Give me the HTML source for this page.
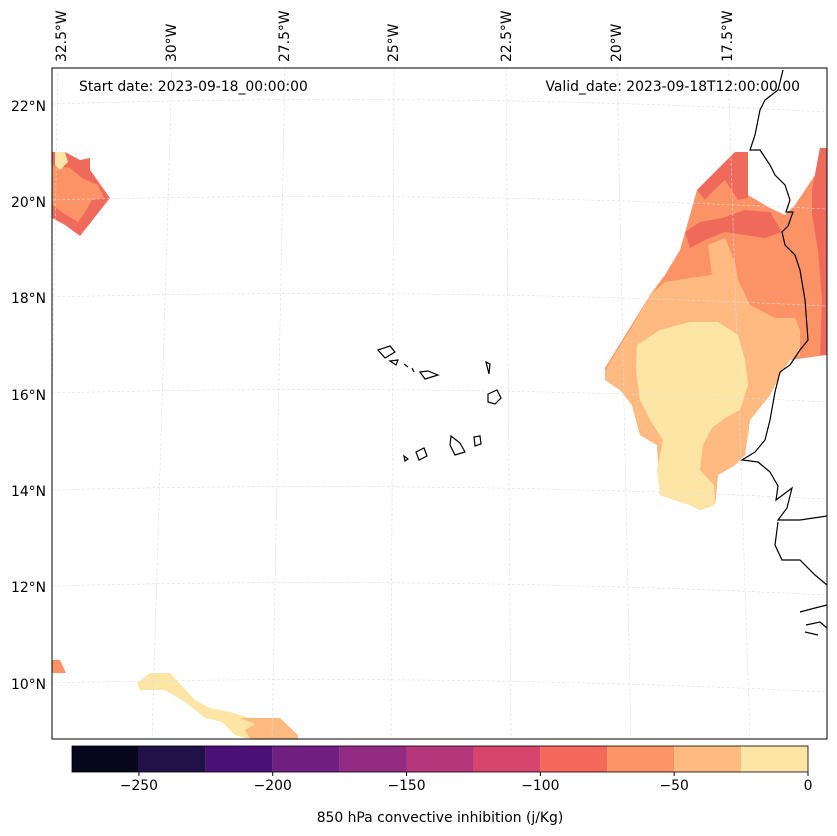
<!DOCTYPE html>
<html><head><meta charset="utf-8"><style>
body{margin:0;background:#fff;}
svg{display:block;font-family:"DejaVu Sans","Liberation Sans",sans-serif;}
</style></head><body>
<svg width="837" height="836" viewBox="0 0 837 836">
<g>
<path fill="#fb9366" d="M605,368 L650,295 L665,275 L680,250 L690,215 L697,190 L735,152 L748,152 L748,195 L770,208 L785,215 L795,205 L815,175 L820,148 L827,148 L827,355 L790,360 L780,375 L770,395 L750,420 L745,455 L735,465 L718,475 L715,505 L700,510 L690,505 L660,495 L657,445 L640,435 L632,405 L620,390 L605,380 Z"/>
<path fill="#f06a5c" d="M697,190 L735,152 L748,152 L748,198 L738,200 L725,180 L712,192 L705,200 Z"/>
<path fill="#f06a5c" d="M685,232 L700,222 L722,218 L745,210 L770,212 L782,232 L765,238 L745,235 L725,232 L705,240 L690,248 Z"/>
<path fill="#f06a5c" d="M812,190 L820,148 L827,148 L827,355 L820,355 L822,300 L818,250 L812,215 Z"/>
<path fill="#feba80" d="M605,370 L630,330 L650,295 L665,282 L690,278 L712,275 L708,245 L725,238 L735,262 L738,280 L750,305 L775,318 L795,318 L800,330 L800,355 L790,360 L780,375 L770,395 L750,420 L745,455 L735,465 L718,475 L715,505 L700,510 L690,505 L660,495 L657,445 L640,435 L632,405 L620,390 L605,380 Z"/>
<path fill="#fde6a5" d="M637,345 L660,330 L690,322 L718,322 L738,335 L745,360 L748,385 L740,410 L725,418 L712,428 L703,445 L700,470 L714,485 L715,505 L700,510 L690,505 L660,495 L657,470 L663,440 L650,420 L640,400 L636,370 Z"/>
<path fill="#f06a5c" d="M52,152 L65,152 L80,160 L90,158 L90,170 L110,198 L80,236 L65,225 L52,218 Z"/>
<path fill="#fb9366" d="M52,165 L70,168 L82,178 L98,185 L104,198 L92,200 L85,212 L78,222 L66,215 L52,205 Z"/>
<path fill="#fde6a5" d="M55,152 L65,152 L68,162 L60,170 L55,165 Z"/>
<path fill="#fb9366" d="M52,660 L60,660 L66,673 L52,673 Z"/>
<path fill="#fde6a5" d="M137,683 L150,673 L170,673 L195,700 L210,708 L230,712 L250,718 L260,722 L248,739 L235,735 L222,722 L205,718 L185,702 L165,690 L140,690 Z"/>
<path fill="#feba80" d="M240,718 L280,718 L298,735 L298,739 L250,739 L245,730 L255,724 Z"/>
</g>
<g stroke="#ddd" stroke-width="0.6" stroke-dasharray="3,2" fill="none">
<path d="M52,104 Q440,92 827,112"/><path d="M52,200 Q440,190 827,209"/><path d="M52,297 Q440,287 827,306"/><path d="M52,393 Q440,383 827,402"/><path d="M52,490 Q440,480 827,499"/><path d="M52,586 Q440,576 827,595"/><path d="M52,683 Q440,673 827,692"/>
<path d="M58,68 L52,400"/><path d="M172,68 L152,739"/><path d="M285,68 L272,739"/><path d="M394,68 L391,739"/><path d="M506,68 L511,739"/><path d="M617,68 L631,739"/><path d="M728,68 L750,739"/>
</g>
<g stroke="#000" stroke-width="1.2" fill="none">
<path d="M783,70 L778,90 L765,100 L760,110 L755,135 L750,150 L760,150 L770,165 L775,175 L785,185 L790,200 L786,212 L793,212 L788,226 L782,232 L785,245 L795,255 L800,270 L805,300 L808,340 L800,350 L790,365 L780,372 L775,392 L770,420 L765,440 L755,452 L742,460 L758,462 L770,472 L778,486 L776,500 L792,488 L787,508 L778,520 L800,520 L827,516"/>
<path d="M778,522 L775,545 L782,560 L800,560 L815,575 L827,585"/>
<path d="M800,612 L815,608 L827,605 M806,625 L820,622 L827,628 M805,632 L818,635"/>
<path d="M378,350 L390,346 L395,352 L385,358 Z M390,361 L398,360 L396,365 Z M404,364 L408,367 M412,368 L414,372 M420,372 L428,371 L438,375 L425,379 Z M486,362 L490,364 L489,374 Z M488,394 L497,390 L501,398 L495,404 L488,402 Z M451,436 L460,443 L465,452 L455,455 L450,445 Z M474,437 L480,436 L481,444 L475,446 Z M416,452 L424,448 L427,456 L419,460 Z M404,456 L408,459 L405,461 Z"/>
</g>
<rect x="52" y="68" width="775" height="671" fill="none" stroke="#000" stroke-width="1"/>
<text x="79" y="91" font-size="13.9">Start date: 2023-09-18_00:00:00</text>
<text x="800" y="91" font-size="13.9" text-anchor="end">Valid_date: 2023-09-18T12:00:00.00</text>
<g font-size="13.9" text-anchor="end">
<text x="46" y="111">22°N</text><text x="46" y="207">20°N</text><text x="46" y="303">18°N</text><text x="46" y="400">16°N</text><text x="46" y="496">14°N</text><text x="46" y="592">12°N</text><text x="46" y="689">10°N</text>
</g>
<g font-size="13.9">
<text transform="translate(66,62) rotate(-90)">32.5°W</text>
<text transform="translate(176,62) rotate(-90)">30°W</text>
<text transform="translate(289,62) rotate(-90)">27.5°W</text>
<text transform="translate(398,62) rotate(-90)">25°W</text>
<text transform="translate(511,62) rotate(-90)">22.5°W</text>
<text transform="translate(621,62) rotate(-90)">20°W</text>
<text transform="translate(732,62) rotate(-90)">17.5°W</text>
</g>
<g id="cbar"></g>
<text x="440" y="822" font-size="13.9" text-anchor="middle">850 hPa convective inhibition (j/Kg)</text>
</svg>
<script>
const levels=[-275,-250,-225,-200,-175,-150,-125,-100,-75,-50,-25,0];
const binColors=["#07061c","#21124a","#4b0f78","#711f81","#922b81","#b5367a","#d8456c","#f4695c","#fd9467","#feba80","#fde6a5"];
const tickValues=[-250,-200,-150,-100,-50,0];
const tickLabels=["\u2212250","\u2212200","\u2212150","\u2212100","\u221250","0"];
const ns="http://www.w3.org/2000/svg";
const g=document.getElementById('cbar');
const x0=72,x1=808,y0=746,h=26;
function xs(v){return x0+(v-levels[0])/(levels[levels.length-1]-levels[0])*(x1-x0);}
for(let i=0;i<binColors.length;i++){
 const r=document.createElementNS(ns,'rect');
 r.setAttribute('x',xs(levels[i]));r.setAttribute('y',y0);
 r.setAttribute('width',xs(levels[i+1])-xs(levels[i]));r.setAttribute('height',h);
 r.setAttribute('fill',binColors[i]);
 
 
 g.appendChild(r);
}
const fr=document.createElementNS(ns,'rect');
fr.setAttribute('x',x0);fr.setAttribute('y',y0);fr.setAttribute('width',x1-x0);fr.setAttribute('height',h);
fr.setAttribute('fill','none');fr.setAttribute('stroke','#000');fr.setAttribute('stroke-width','0.8');


g.appendChild(fr);
tickValues.forEach((v,i)=>{
 const l=document.createElementNS(ns,'line');
 l.setAttribute('x1',xs(v));l.setAttribute('x2',xs(v));l.setAttribute('y1',y0+h);l.setAttribute('y2',y0+h+4);
 l.setAttribute('stroke','#000');
 
 
 g.appendChild(l);
 const t=document.createElementNS(ns,'text');
 t.setAttribute('x',xs(v));t.setAttribute('y',y0+h+18);t.setAttribute('font-size','13.9');t.setAttribute('text-anchor','middle');
 t.textContent=tickLabels[i];
 
 
 g.appendChild(t);
});
</script>
</body></html>
